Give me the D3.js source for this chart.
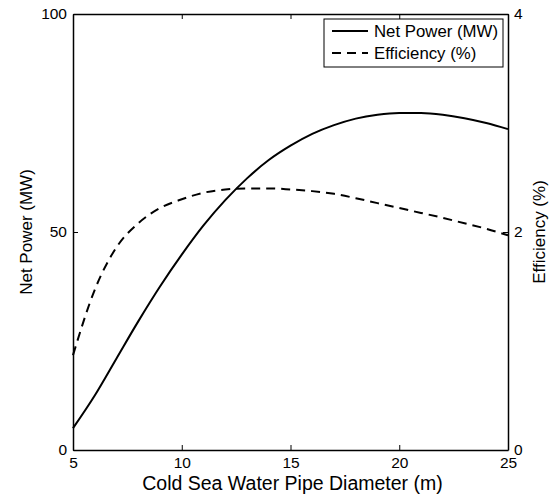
<!DOCTYPE html>
<html>
<head>
<meta charset="utf-8">
<script src="https://cdn.jsdelivr.net/npm/d3@7"></script>
<style>
  body { margin: 0; background: #fff; }
  svg text { font-family: "Liberation Sans", Arial, Helvetica, sans-serif; fill: #000; }
</style>
</head>
<body>
<div id="chart"></div>
<script>
// Pipe diameter (m)
var diameter = [5, 6, 7, 8, 9, 10, 11, 12, 13, 14, 15, 16, 17, 18, 19, 20, 21, 22, 23, 24, 25];
// Net power (MW), left axis
var netPower = [5.0, 12.5, 21.0, 29.5, 37.5, 44.8, 51.5, 57.3, 62.3, 66.5, 69.8, 72.5, 74.5, 76.0, 76.9, 77.3, 77.3, 76.9, 76.1, 75.0, 73.6];
// Efficiency (%), right axis
var efficiency = [0.87, 1.47, 1.86, 2.08, 2.22, 2.30, 2.36, 2.39, 2.40, 2.40, 2.39, 2.375, 2.35, 2.31, 2.265, 2.22, 2.175, 2.13, 2.08, 2.03, 1.97];

var xTicks = [5, 10, 15, 20, 25];
var leftTicks = [0, 50, 100];
var rightTicks = [0, 2, 4];

var svgWidth = 555;
var svgHeight = 499;
var margin = { top: 14, right: 47, bottom: 49, left: 73 };
var width = svgWidth - margin.left - margin.right;
var height = svgHeight - margin.top - margin.bottom;

var svg = d3.select("#chart")
  .append("svg")
  .attr("width", svgWidth)
  .attr("height", svgHeight);

var g = svg.append("g")
  .attr("transform", `translate(${margin.left}, ${margin.top})`);

var x = d3.scaleLinear().domain([5, 25]).range([0, width]);
var yLeft = d3.scaleLinear().domain([0, 100]).range([height, 0]);
var yRight = d3.scaleLinear().domain([0, 4]).range([height, 0]);

var fontSize = 15.5;

// axes, ticks pointing inward like a boxed plot
g.append("g")
  .attr("transform", `translate(0, ${height})`)
  .call(d3.axisBottom(x).tickValues(xTicks).tickSize(-5).tickPadding(7).tickSizeOuter(0))
  .call(a => a.selectAll("text").attr("font-size", fontSize).attr("dy", "0.72em"));

g.append("g")
  .call(d3.axisTop(x).tickValues(xTicks).tickSize(-5).tickFormat("").tickSizeOuter(0));

g.append("g")
  .call(d3.axisLeft(yLeft).tickValues(leftTicks).tickSize(-5).tickPadding(6).tickSizeOuter(0))
  .call(a => a.selectAll("text").attr("font-size", fontSize));

g.append("g")
  .attr("transform", `translate(${width}, 0)`)
  .call(d3.axisRight(yRight).tickValues(rightTicks).tickSize(-5).tickPadding(6).tickSizeOuter(0)
    .tickFormat(d3.format("d")))
  .call(a => a.selectAll("text").attr("font-size", fontSize));

g.selectAll(".domain").attr("stroke", "#000").attr("stroke-width", 1.5);
g.selectAll(".tick line").attr("stroke", "#000").attr("stroke-width", 1);

// series lines
var powerLine = d3.line()
  .x((d, i) => x(diameter[i]))
  .y(d => yLeft(d))
  .curve(d3.curveMonotoneX);

var effLine = d3.line()
  .x((d, i) => x(diameter[i]))
  .y(d => yRight(d))
  .curve(d3.curveMonotoneX);

g.append("path")
  .datum(netPower)
  .attr("fill", "none")
  .attr("stroke", "#000")
  .attr("stroke-width", 2)
  .attr("d", powerLine);

g.append("path")
  .datum(efficiency)
  .attr("fill", "none")
  .attr("stroke", "#000")
  .attr("stroke-width", 2)
  .attr("stroke-dasharray", "9,6")
  .attr("d", effLine);

// axis titles
svg.append("text")
  .attr("x", margin.left + width / 2 + 2)
  .attr("y", 490)
  .attr("text-anchor", "middle")
  .attr("font-size", 19.5)
  .text("Cold Sea Water Pipe Diameter (m)");

svg.append("text")
  .attr("transform", `translate(32, ${margin.top + height / 2}) rotate(-90)`)
  .attr("text-anchor", "middle")
  .attr("font-size", 17)
  .text("Net Power (MW)");

svg.append("text")
  .attr("transform", `translate(545, ${margin.top + height / 2}) rotate(-90)`)
  .attr("text-anchor", "middle")
  .attr("font-size", 17)
  .text("Efficiency (%)");

// legend
var legend = svg.append("g").attr("transform", "translate(324, 19)");
legend.append("rect")
  .attr("width", 179)
  .attr("height", 48)
  .attr("fill", "#fff")
  .attr("stroke", "#000")
  .attr("stroke-width", 1);

var legendItems = [
  { label: "Net Power (MW)", dash: null },
  { label: "Efficiency (%)", dash: "9,6" }
];

legendItems.forEach(function (item, i) {
  var yPos = 12 + i * 22;
  legend.append("line")
    .attr("x1", 8).attr("x2", 44)
    .attr("y1", yPos).attr("y2", yPos)
    .attr("stroke", "#000")
    .attr("stroke-width", 2)
    .attr("stroke-dasharray", item.dash);
  legend.append("text")
    .attr("x", 50)
    .attr("y", yPos)
    .attr("dy", "0.35em")
    .attr("font-size", 16.8)
    .text(item.label);
});
</script>
</body>
</html>
